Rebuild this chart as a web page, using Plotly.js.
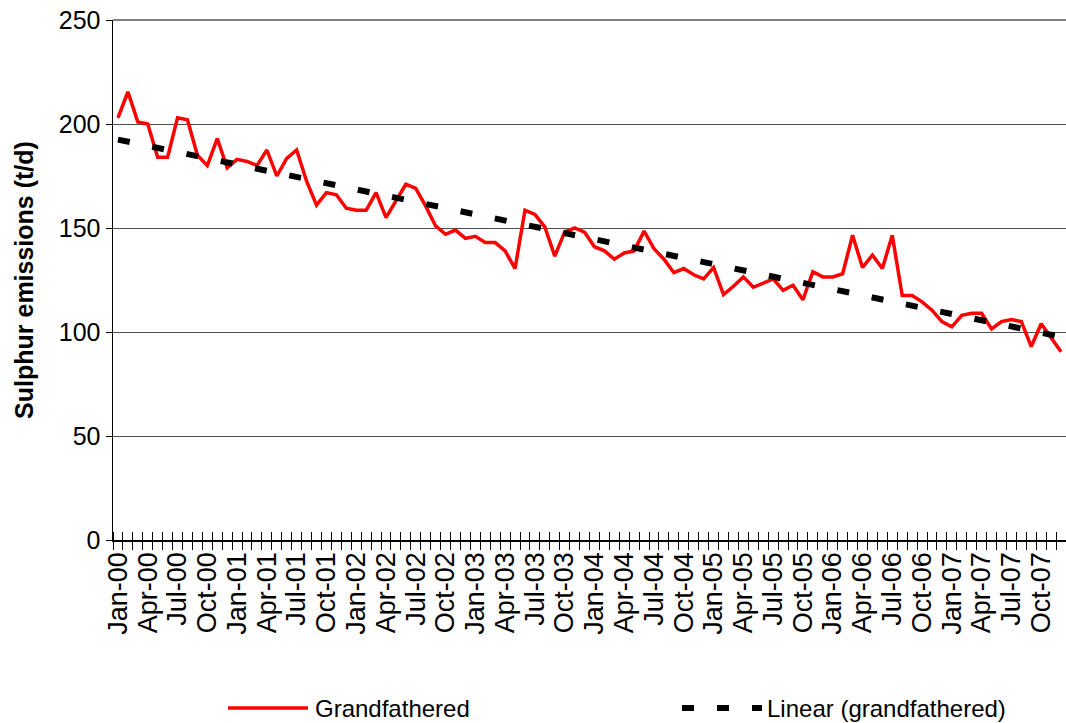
<!DOCTYPE html>
<html>
<head>
<meta charset="utf-8">
<script src="https://cdn.plot.ly/plotly-3.0.1.min.js"></script>
<style>html,body{margin:0;padding:0;background:#fff;}#chart{width:1066px;height:723px;}</style>
</head>
<body>
<div id="chart"></div>
<script>
// Monthly sulphur emissions (t/d), Jan-2000 .. Dec-2007
var emissions = [
  203, 215.5, 201, 200, 184, 184, 203, 202, 185, 180, 193, 179,
  183, 182, 180, 187.5, 175, 183.5, 187.5, 172.5, 161, 167, 166, 159.5,
  158.5, 158.5, 167, 155, 163, 171, 169, 160.5, 151, 147, 149, 145,
  146, 143, 143, 139, 130.5, 158.5, 156.5, 150.5, 136.5, 148, 150, 148,
  141, 139, 135, 138, 139, 148.5, 140, 135, 128.5, 130.5, 127.5, 125.5,
  131, 118, 122, 126.5, 121.5, 123.5, 125.5, 120, 122.5, 115.5, 129, 126.5,
  126.5, 128, 146.5, 131, 137, 130.5, 146.5, 117.5, 117.5, 114.5, 110.5, 105,
  102.5, 108, 109, 109, 101.5, 105, 106, 105, 93, 104, 97, 90.5
];
var tickLabels = [
  "Jan-00","Apr-00","Jul-00","Oct-00","Jan-01","Apr-01","Jul-01","Oct-01",
  "Jan-02","Apr-02","Jul-02","Oct-02","Jan-03","Apr-03","Jul-03","Oct-03",
  "Jan-04","Apr-04","Jul-04","Oct-04","Jan-05","Apr-05","Jul-05","Oct-05",
  "Jan-06","Apr-06","Jul-06","Oct-06","Jan-07","Apr-07","Jul-07","Oct-07"
];
var seriesName = "Grandfathered";
var trendName = "Linear (grandfathered)";
var yTitle = "Sulphur emissions (t/d)";

// month index positions
var xIdx = emissions.map(function(_, i){ return i; });
var tickVals = tickLabels.map(function(_, k){ return k * 3; });

// least-squares linear trend of the series (as the spreadsheet trendline)
var n = emissions.length, sx = 0, sy = 0, sxx = 0, sxy = 0;
for (var i = 0; i < n; i++) { sx += xIdx[i]; sy += emissions[i]; sxx += xIdx[i]*xIdx[i]; sxy += xIdx[i]*emissions[i]; }
var slope = (n*sxy - sx*sy) / (n*sxx - sx*sx);
var intercept = (sy - slope*sx) / n;
var trend = xIdx.map(function(x){ return intercept + slope*x; });

var FONT = "Liberation Sans, Arial, sans-serif";

var traces = [
  {x: xIdx, y: emissions, type: "scatter", mode: "lines", name: seriesName,
   line: {color: "#ff0000", width: 3.5}, hoverinfo: "x+y"},
  {x: xIdx, y: trend, type: "scatter", mode: "lines", name: trendName,
   line: {color: "#000000", width: 6, dash: "12px,23px"}, hoverinfo: "skip"},
  {x: [xIdx[0]], y: [emissions[0]], xaxis: "x2", type: "scatter", mode: "markers",
   marker: {opacity: 0}, showlegend: false, hoverinfo: "skip"}
];

var layout = {
  width: 1066, height: 723,
  margin: {l: 113, r: 0, t: 20, b: 183},
  paper_bgcolor: "#ffffff", plot_bgcolor: "#ffffff",
  showlegend: false,
  font: {family: FONT, color: "#000", size: 24},
  xaxis: {
    range: [-0.5, n - 0.5], tickmode: "array", tickvals: tickVals, ticktext: tickLabels,
    tickangle: -90, tickfont: {size: 27, family: FONT}, ticks: "",
    minor: {tickmode: "linear", tick0: -0.5, dtick: 1, ticks: "outside", ticklen: 8, tickcolor: "#000", tickwidth: 1, showgrid: false},
    showgrid: false, showline: true, linecolor: "#000", linewidth: 1.5, zeroline: false,
    fixedrange: true
  },
  xaxis2: {
    overlaying: "x", anchor: "y", range: [-0.5, n - 0.5], showticklabels: false, ticks: "",
    minor: {tickmode: "linear", tick0: -0.5, dtick: 1, ticks: "inside", ticklen: 8, tickcolor: "#000", tickwidth: 1, showgrid: false},
    showgrid: false, showline: false, zeroline: false
  },
  yaxis: {
    range: [0, 250], tickmode: "linear", tick0: 0, dtick: 50,
    tickfont: {size: 25, family: FONT}, ticks: "outside", ticklen: 6, tickcolor: "#000",
    showgrid: true, gridcolor: "#4d4d4d", gridwidth: 1,
    showline: true, linecolor: "#000", linewidth: 1.5, zeroline: false,
    title: {text: "<b>" + yTitle + "</b>", font: {size: 25, family: FONT}, standoff: 18},
    fixedrange: true
  },
  shapes: [
    {type: "line", xref: "paper", yref: "paper", x0: 0, x1: 1, y0: 1, y1: 1, line: {color: "#000", width: 1}},
    {type: "line", xref: "paper", yref: "paper", x0: 115/953, x1: 195/953, y0: -168/520, y1: -168/520, line: {color: "#ff0000", width: 3.5}},
    {type: "line", xref: "paper", yref: "paper", x0: 569/953, x1: 649/953, y0: -168/520, y1: -168/520, line: {color: "#000", width: 6, dash: "12px,23px"}}
  ],
  annotations: [
    {xref: "paper", yref: "paper", x: 200/953, y: -168/520, xanchor: "left", yanchor: "middle", text: seriesName, showarrow: false, font: {size: 24, family: FONT}},
    {xref: "paper", yref: "paper", x: 652/953, y: -168/520, xanchor: "left", yanchor: "middle", text: trendName, showarrow: false, font: {size: 24, family: FONT}}
  ]
};

Plotly.newPlot("chart", traces, layout, {displayModeBar: false, staticPlot: true});
</script>
</body>
</html>
